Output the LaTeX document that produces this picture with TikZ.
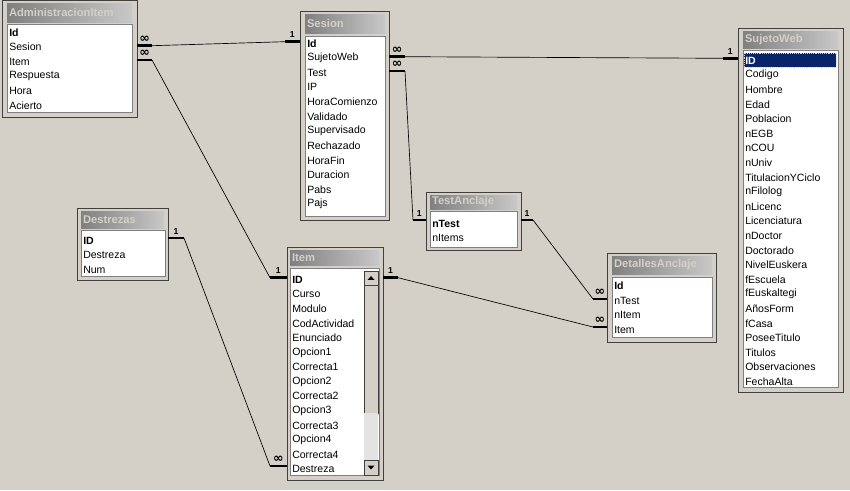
\documentclass[tikz,border=0pt]{standalone}
\usepackage{fontspec}
\setmainfont{Liberation Sans}
\newfontfamily\symfont{DejaVu Sans}
\usepackage{tikz}
\usetikzlibrary{positioning,fit,calc}
\definecolor{winbg}{HTML}{D4D0C8}
\definecolor{ttldark}{HTML}{808080}
\definecolor{ttllight}{HTML}{C8C8C8}
\definecolor{winshadow}{HTML}{404040}
\definecolor{selblue}{HTML}{0A246A}
\newcommand{\many}{{\symfont\fontsize{9.5}{9}\selectfont\bfseries ∞}}

\begin{document}
\begin{tikzpicture}[
    x=0.75pt, y=-0.75pt,
    tablebox/.style={draw=winshadow, fill=winbg, inner sep=0pt},
    titlebar/.style={left color=ttldark, right color=ttllight, inner sep=0pt},
    titletext/.style={anchor=west, inner sep=0pt, text=winbg, font=\fontsize{8.4}{10}\selectfont\bfseries},
    listbox/.style={fill=white, draw=ttldark, inner sep=0pt},
    field/.style={anchor=west, inner sep=0pt, font=\fontsize{7.9}{9}\selectfont},
    keyfield/.style={field, font=\fontsize{7.9}{9}\selectfont\bfseries},
    link/.style={draw=black, line width=0.5pt},
    stub/.style={draw=black, line width=2.2pt},
    card/.style={inner sep=0pt, font=\fontsize{6.5}{7}\selectfont\bfseries},
  ]
  \fill[winbg] (0,0) rectangle (850,490);
  \useasboundingbox (0,0) rectangle (850,490);

  % AdministracionItem
  \node[tablebox, fit={(2,0) (137,117)}] (adm) {};
  \node[titlebar, fit={(7,3) (132,22)}] (adm-t) {};
  \node[titletext] (adm-tt) at ([xshift=1.5pt]adm-t.west) {AdministracionItem};
  \node[listbox, fit={(7,24) (132,112)}] (adm-l) {};
  \node[keyfield] (adm-0) at (9,32.5) {Id};
  \foreach \f [count=\i] in {Sesion,Item,Respuesta,Hora,Acierto}
    \node[field] (adm-\i) at (9,32.5+\i*14.6) {\f};

  % Sesion
  \node[tablebox, fit={(300,11) (389,220)}] (ses) {};
  \node[titlebar, fit={(305,14) (385,33)}] (ses-t) {};
  \node[titletext] (ses-tt) at ([xshift=1.5pt]ses-t.west) {Sesion};
  \node[listbox, fit={(305,36) (385,216)}] (ses-l) {};
  \node[keyfield] (ses-0) at (307,43.5) {Id};
  \foreach \f [count=\i] in {SujetoWeb,Test,IP,HoraComienzo,Validado,Supervisado,
      Rechazado,HoraFin,Duracion,Pabs,Pajs}
    \node[field] (ses-\i) at (307,43.5+\i*14.6) {\f};

  % SujetoWeb
  \node[tablebox, fit={(738,28) (843,392)}] (suj) {};
  \node[titlebar, fit={(743,31) (838,48)}] (suj-t) {};
  \node[titletext] (suj-tt) at ([xshift=1.5pt]suj-t.west) {SujetoWeb};
  \node[listbox, fit={(743,50) (838,387)}] (suj-l) {};
  \node[fill=selblue, draw=winbg, densely dotted, inner sep=0pt, fit={(744,53) (836,67)}] (suj-sel) {};
  \node[keyfield, text=white] (suj-0) at (745,60.5) {ID};
  \foreach \f [count=\i] in {Codigo,Hombre,Edad,Poblacion,nEGB,nCOU,nUniv,TitulacionYCiclo,
      nFilolog,nLicenc,Licenciatura,nDoctor,Doctorado,NivelEuskera,fEscuela,fEuskaltegi,
      AñosForm,fCasa,PoseeTitulo,Titulos,Observaciones,FechaAlta}
    \node[field] (suj-\i) at (745,60.5+\i*14.6) {\f};

  % TestAnclaje
  \node[tablebox, fit={(426,192) (521,250)}] (tan) {};
  \node[titlebar, fit={(430,195) (517,209)}] (tan-t) {};
  \node[titletext] (tan-tt) at ([xshift=1.5pt]tan-t.west) {TestAnclaje};
  \node[listbox, fit={(430,211) (517,247)}] (tan-l) {};
  \node[keyfield] (tan-0) at (432,223.5) {nTest};
  \node[field] (tan-1) at (432,238.1) {nItems};

  % Destrezas
  \node[tablebox, fit={(77,208) (168,280)}] (des) {};
  \node[titlebar, fit={(81,211) (164,228)}] (des-t) {};
  \node[titletext] (des-tt) at ([xshift=1.5pt]des-t.west) {Destrezas};
  \node[listbox, fit={(81,230) (165,276)}] (des-l) {};
  \node[keyfield] (des-0) at (83,240.5) {ID};
  \foreach \f [count=\i] in {Destreza,Num}
    \node[field] (des-\i) at (83,240.5+\i*14.6) {\f};

  % Item
  \node[tablebox, fit={(287,247) (383,480)}] (itm) {};
  \node[titlebar, fit={(290,250) (379,265)}] (itm-t) {};
  \node[titletext] (itm-tt) at ([xshift=1.5pt]itm-t.west) {Item};
  \node[listbox, fit={(290,268) (379,475)}] (itm-l) {};
  \node[keyfield] (itm-0) at (292,279.5) {ID};
  \foreach \f [count=\i] in {Curso,Modulo,CodActividad,Enunciado,Opcion1,Correcta1,Opcion2,
      Correcta2,Opcion3,Correcta3,Opcion4,Correcta4,Destreza}
    \node[field] (itm-\i) at (292,279.5+\i*14.6) {\f};
  % scroll bar
  \node[tablebox, fit={(364,271) (378,285)}] (itm-up) {};
  \fill (itm-up.center) ++(-3.5,1.8) -- ++(7,0) -- ++(-3.5,-3.6) -- cycle;
  \node[tablebox, fit={(364,285) (378,413)}] (itm-thumb) {};
  \node[fill=gray!22, inner sep=0pt, fit={(364,413) (378,460)}] (itm-track) {};
  \node[tablebox, fit={(364,460) (378,475)}] (itm-down) {};
  \fill (itm-down.center) ++(-3.5,-1.8) -- ++(7,0) -- ++(-3.5,3.6) -- cycle;

  % DetallesAnclaje
  \node[tablebox, fit={(607,253) (716,342)}] (det) {};
  \node[titlebar, fit={(612,256) (712,274)}] (det-t) {};
  \node[titletext] (det-tt) at ([xshift=1.5pt]det-t.west) {DetallesAnclaje};
  \node[listbox, fit={(612,277) (712,337)}] (det-l) {};
  \node[keyfield] (det-0) at (614,286) {Id};
  \foreach \f [count=\i] in {nTest,nItem,Item}
    \node[field] (det-\i) at (614,286+\i*14.6) {\f};

  % Relationships: table east -> table west
  \foreach \ta/\tb/\ax/\ay/\bx/\by/\la/\lb [count=\k] in {
      adm/ses/152/45.7/285/41.7/\many/1,
      adm/itm/152/60/270/277.7/\many/1,
      ses/suj/405/56.7/723/58.3/\many/1,
      ses/tan/405/71/413/220/\many/1,
      tan/det/533/220/593/299/1/\many,
      itm/det/398/277.7/593/327/1/\many,
      des/itm/184/238/270/466/1/\many} {
    \coordinate (l\k a) at (\ax,\ay);
    \coordinate (l\k b) at (\bx,\by);
    \draw[stub] (\ta.east |- l\k a) -- (l\k a);
    \draw[link] (l\k a) -- (l\k b);
    \draw[stub] (l\k b) -- (\tb.west |- l\k b);
    \node[card] (l\k la) at ($($(\ta.east |- l\k a)!0.5!(l\k a)$)+(0,-6.8)$) {\la};
    \node[card] (l\k lb) at ($($(l\k b)!0.5!(\tb.west |- l\k b)$)+(0,-6.8)$) {\lb};
  }
\end{tikzpicture}
\end{document}
